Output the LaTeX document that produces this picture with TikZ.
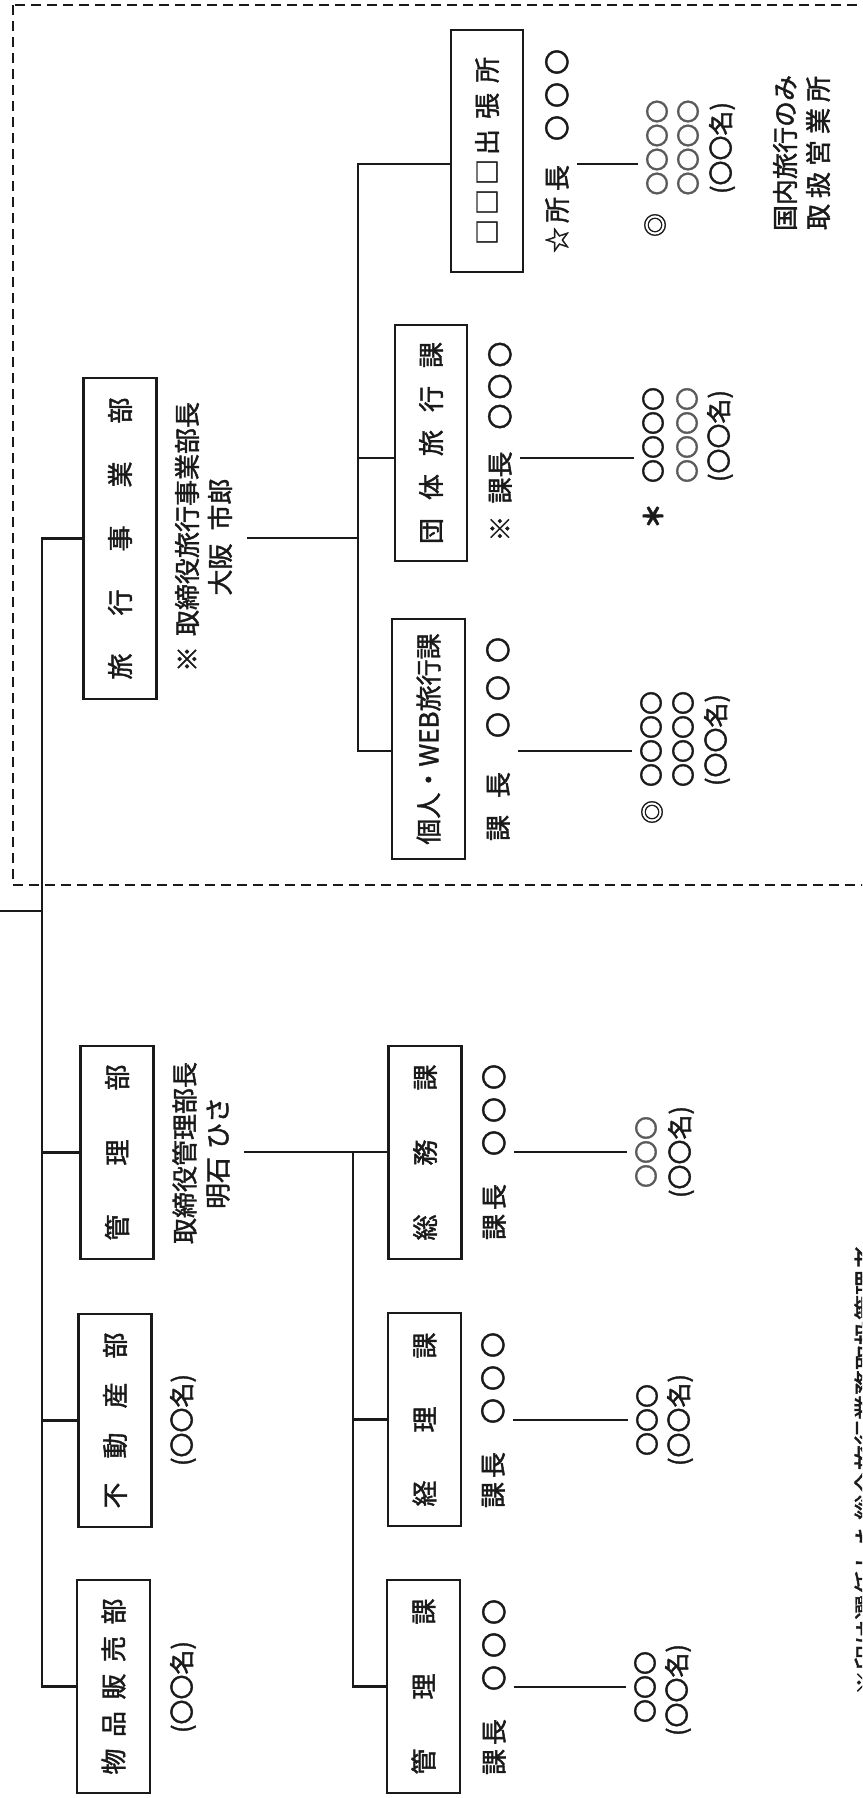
\documentclass[tikz,border=0pt]{standalone}
\usepackage{fontspec}
\newfontfamily\jp[FakeBold=1.6]{Noto Sans CJK JP}
\ExplSyntaxOn
\NewDocumentCommand\sptext{mm}{\tl_map_inline:nn{#2}{##1\kern#1}\kern-#1\relax}
\ExplSyntaxOff
\definecolor{ink}{HTML}{1A1A1A}
\definecolor{soft}{HTML}{5A5A5A}
\tikzset{
  ln/.style={line width=2.4pt, draw=ink},
  bx/.style={draw=ink, line width=2.4pt, rotate=90, inner sep=0pt, minimum height=73pt, font=\jp\fontsize{26}{30}\selectfont, text=ink},
  lb/.style={rotate=90, inner sep=0pt, font=\jp\fontsize{26}{33}\selectfont, text=ink},
  cnt/.style={rotate=90, inner sep=0pt, font=\jp\fontsize{25}{30}\selectfont, text=ink},
  row/.style={rotate=90, inner sep=0pt, font=\jp\fontsize{24}{28}\selectfont, text=ink},
  frame/.style={draw=ink, line width=2.8pt, dash pattern=on 10pt off 6pt},
}
\begin{document}
\begin{tikzpicture}[x=1pt,y=-1pt]
\useasboundingbox (0,0) rectangle (862,1798);
\clip (0,0) rectangle (862,1798);
\fill[white] (0,0) rectangle (862,1798);

% dashed region of the travel division
\draw[frame] (13,5) rectangle (875,885);

% level-1 boxes
\node[bx, minimum width=321pt] (ryoko) at (120,538.5) {\sptext{38pt}{旅行事業部}};
\node[bx, minimum width=213pt] (kanri) at (117,1152.5) {\sptext{49pt}{管理部}};
\node[bx, minimum width=213pt] (fudosan) at (115,1420.5) {\sptext{24pt}{不動産部}};
\node[bx, minimum width=213pt] (buppan) at (113.5,1686.5) {\sptext{11.5pt}{物品販売部}};

% trunk
\coordinate (pres) at (0,911);
\coordinate (trk) at (42,911);
\draw[ln] (pres) -- (trk);
\draw[ln] (ryoko.north) -| (trk) |- (buppan.north);
\draw[ln] (kanri.north -| trk) -- (kanri.north);
\draw[ln] (fudosan.north -| trk) -- (fudosan.north);

\node[cnt] (fudosanCnt) at (183,1420) {(〇〇名)};
\node[cnt] (buppanCnt) at (183,1687) {(〇〇名)};

% ---------- management division ----------
\node[lb, align=center] (kanriHead) at (201,1153) {取締役管理部長\\明石\kern8pt ひさ};
\node[bx, minimum width=213pt] (somu) at (425,1152.5) {\sptext{49pt}{総務課}};
\node[bx, minimum width=213pt] (keiri) at (424.5,1419.5) {\sptext{48pt}{経理課}};
\node[bx, minimum width=213pt] (kanrika) at (423.5,1686.5) {\sptext{49pt}{管理課}};
\coordinate (kJ) at (353,1152);
\draw[ln, shorten <=14pt] (kanriHead.south |- kJ) -- (kJ) -- (kJ -| somu.north);
\draw[ln] (kJ) |- (kanrika.north);
\draw[ln] (kJ |- keiri.north) -- (keiri.north);

\node[lb] (somuChief) at (494,1152) {課\kern4pt 長\kern28pt 〇\kern7pt 〇\kern7pt 〇};
\node[row, text=soft] (somuStaff) at (646,1152) {〇〇〇};
\node[cnt] (somuCnt) at (681,1152) {(〇〇名)};
\draw[ln, shorten <=8pt, shorten >=8pt] (somuChief.south) -- (somuStaff.north);

\node[lb] (keiriChief) at (493,1420) {課\kern4pt 長\kern28pt 〇\kern7pt 〇\kern7pt 〇};
\node[row] (keiriStaff) at (647,1420) {〇〇〇};
\node[cnt] (keiriCnt) at (680,1420) {(〇〇名)};
\draw[ln, shorten <=8pt, shorten >=8pt] (keiriChief.south) -- (keiriStaff.north);

\node[lb] (kanrikaChief) at (494,1687) {課\kern4pt 長\kern28pt 〇\kern7pt 〇\kern7pt 〇};
\node[row] (kanrikaStaff) at (645,1687) {〇〇〇};
\node[cnt] (kanrikaCnt) at (678,1690) {(〇〇名)};
\draw[ln, shorten <=8pt, shorten >=8pt] (kanrikaChief.south) -- (kanrikaStaff.north);

% ---------- travel division ----------
\node[lb, align=center] (ryokoHead) at (203.5,537) {※\kern10pt 取締役旅行事業部長\\大阪\kern13pt 市郎};
\node[bx, minimum width=242pt, minimum height=72pt] (shuccho) at (487,151) {□\kern4pt □\kern4pt □\kern4pt 出\kern10pt 張\kern10pt 所};
\node[bx, minimum width=236pt, minimum height=72pt] (dantai) at (431,443) {\sptext{18pt}{団体旅行課}};
\node[bx, minimum width=240pt] (kojin) at (428.5,739) {個人・WEB旅行課};

\coordinate (rJ) at (358,538);
\coordinate (rT) at (358,164);
\coordinate (rD) at (358,458);
\coordinate (rB) at (358,751);
\draw[ln, shorten <=15pt] (ryokoHead.south |- rJ) -- (rJ);
\draw[ln] (shuccho.north |- rT) -- (rT) -- (rB) -- (kojin.north |- rB);
\draw[ln] (rD) -- (dantai.north |- rD);

% branch office staff
\node[lb] (shChief) at (557,151) {☆\kern4pt 所\kern6pt 長\kern24pt 〇\kern7pt 〇\kern7pt 〇};
\node[row] (shMark) at (655,225) {◎};
\node[row, text=soft] (shRow1) at (657,147.5) {〇〇〇〇};
\node[row, text=soft] (shRow2) at (688,147.5) {〇〇〇〇};
\node[cnt] (shCnt) at (722,148) {(〇〇名)};
\draw[ln, shorten <=8pt, shorten >=8pt] (shChief.south |- rT) -- (shRow1.north |- rT);

% group travel staff
\node[lb] (dChief) at (500,441.5) {※\kern12pt 課長\kern22pt 〇\kern4pt 〇\kern6pt 〇};
\node[row, font=\jp\bfseries\fontsize{26}{28}\selectfont] (dMark) at (653,516) {＊};
\node[row] (dRow1) at (653,435) {〇〇〇〇};
\node[row, text=soft] (dRow2) at (687,435) {〇〇〇〇};
\node[cnt] (dCnt) at (720,436) {(〇〇名)};
\draw[ln, shorten <=8pt, shorten >=8pt] (dChief.south |- rD) -- (dRow1.north |- rD);

% individual / WEB travel staff
\node[lb] (kChief) at (498,739) {課\kern17pt 長\kern34pt 〇\kern11pt 〇\kern12pt 〇};
\node[row] (kMark) at (652,812) {◎};
\node[row] (kRow1) at (651,739) {〇〇〇〇};
\node[row] (kRow2) at (683,739) {〇〇〇〇};
\node[cnt] (kCnt) at (717,740) {(〇〇名)};
\draw[ln, shorten <=8pt, shorten >=8pt] (kChief.south |- rB) -- (kRow1.north |- rB);

% remark on the branch office
\node[lb] (domestic1) at (785,153) {国内旅行のみ};
\node[lb] (domestic2) at (818,153) {\sptext{6pt}{取扱営業所}};

% footnote (cut by the page edge, as in the scan)
\node[cnt] (note) at (866,1470) {※印は選任した総合旅行業務取扱管理者};
\end{tikzpicture}
\end{document}
